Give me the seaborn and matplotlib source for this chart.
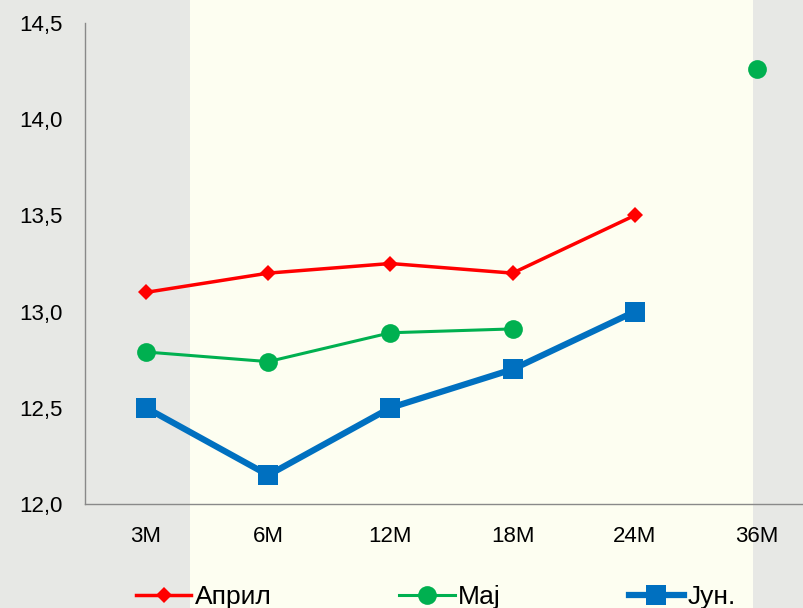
import matplotlib
matplotlib.use("Agg")
import matplotlib.pyplot as plt
from matplotlib.patches import Rectangle
from matplotlib.ticker import FuncFormatter
import seaborn as sns
import pandas as pd

categories = ['3M', '6M', '12M', '18M', '24M', '36M']
april = [13.10, 13.20, 13.25, 13.20, 13.50, None]
maj = [12.79, 12.74, 12.89, 12.91, None, 14.26]
jun = [12.50, 12.15, 12.50, 12.70, 13.00, None]
series_names = ['Април', 'Мај', 'Јун.']
y_ticks = [12.0, 12.5, 13.0, 13.5, 14.0, 14.5]

styles = {
    'Април': dict(color='#FF0000', marker='D', markersize=8.5, linewidth=2.5),
    'Мај': dict(color='#00B050', marker='o', markersize=13.5, linewidth=2.2),
    'Јун.': dict(color='#0070C0', marker='s', markersize=15, linewidth=4.5),
}

plt.rcParams['font.family'] = ['Liberation Sans', 'DejaVu Sans']

W, H = 804, 608
fig = plt.figure(figsize=(W / 100, H / 100), dpi=100)
fig.patch.set_facecolor('#E7E8E5')
# cream central band
fig.patches.append(Rectangle((190 / W, 0), (753 - 190) / W, 1, transform=fig.transFigure,
                             facecolor='#FDFEF1', edgecolor='none', zorder=-10))

ax = fig.add_axes([85 / W, (H - 504) / H, 733 / W, 481 / H])
ax.set_facecolor('none')

for name, vals in zip(series_names, [april, maj, jun]):
    st = styles[name]
    runs, cur = [], []
    for i, v in enumerate(vals):
        if v is None:
            if cur:
                runs.append(cur)
            cur = []
        else:
            cur.append((i, v))
    if cur:
        runs.append(cur)
    for k, run in enumerate(runs):
        df = pd.DataFrame(run, columns=['x', 'y'])
        sns.lineplot(data=df, x='x', y='y', ax=ax, color=st['color'], marker=st['marker'],
                     markersize=st['markersize'], linewidth=st['linewidth'],
                     markeredgecolor=st['color'], markeredgewidth=0,
                     label=name if k == 0 else None, clip_on=False, zorder=3)

ax.set_xlim(-0.5, len(categories) - 0.5)
ax.set_ylim(12.0, 14.5)
ax.set_xticks(range(len(categories)))
ax.set_xticklabels(categories)
ax.set_yticks(y_ticks)
ax.yaxis.set_major_formatter(FuncFormatter(lambda v, p: f"{v:.1f}".replace('.', ',')))
ax.tick_params(axis='both', length=0, labelsize=16, colors='black')
ax.tick_params(axis='y', pad=16)
ax.tick_params(axis='x', pad=16)
ax.set_xlabel('')
ax.set_ylabel('')
for s in ['top', 'right']:
    ax.spines[s].set_visible(False)
for s in ['left', 'bottom']:
    ax.spines[s].set_color('#898989')
    ax.spines[s].set_linewidth(1.0)
ax.grid(False)

handles, labels = ax.get_legend_handles_labels()
ax.get_legend().remove()
fig.legend(handles, labels, loc='center left', bbox_to_anchor=(136 / W, 1 - 597 / H),
           ncol=3, frameon=False, fontsize=19, handlelength=2.1, handletextpad=0.12,
           columnspacing=4.85, borderpad=0, borderaxespad=0)

fig.savefig('out.png', dpi=100, facecolor=fig.get_facecolor())
